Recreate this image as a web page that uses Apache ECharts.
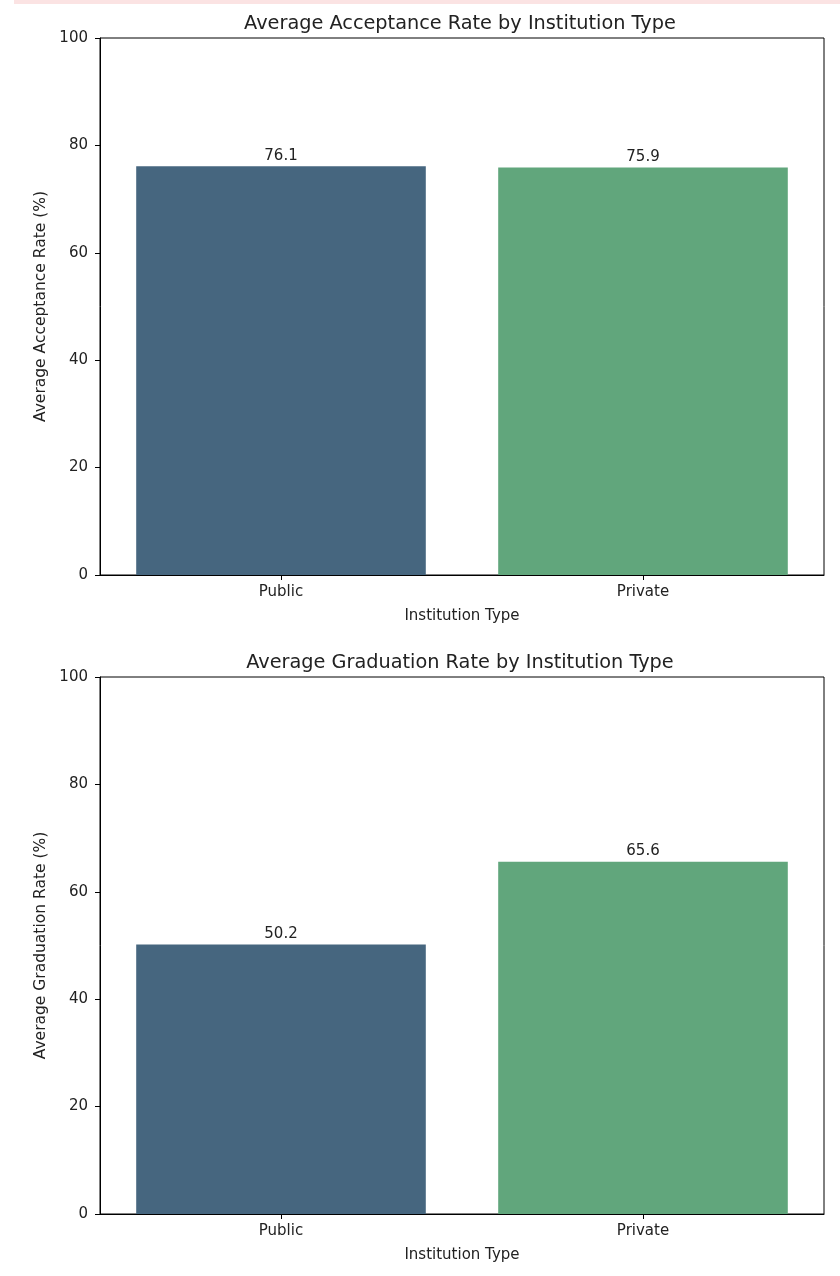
<!DOCTYPE html>
<html>
<head>
<meta charset="utf-8">
<script src="https://cdn.jsdelivr.net/npm/echarts@6/dist/echarts.min.js"></script>
<style>
  html, body { margin: 0; padding: 0; background: #fff; }
  #strip { position: absolute; left: 14px; top: 0; width: 826px; height: 4px; background: #fbe3e3; }
  #chart { width: 840px; height: 1276px; }
</style>
</head>
<body>
<div id="strip"></div>
<div id="chart"></div>
<script>
// institution types and the two averages per type
const categories = ['Public', 'Private'];
const acceptanceRate = [76.1, 75.9];
const graduationRate = [50.2, 65.6];
const yTicks = [0, 20, 40, 60, 80, 100];

const colors = ['#46667f', '#61a67c'];
const font = 'DejaVu Sans';
const fs = 15;

const axisLine = { show: true, lineStyle: { color: '#000', width: 1 } };
const axisTick = { show: true, inside: false, length: 5, lineStyle: { color: '#000' } };
const axisLabel = { color: '#222', fontFamily: font, fontSize: fs };

function makeX(gridIndex) {
  return {
    type: 'category',
    gridIndex,
    data: categories,
    axisLine,
    axisTick: { ...axisTick, alignWithLabel: true },
    axisLabel: { ...axisLabel, margin: 10 },
    name: 'Institution Type',
    nameLocation: 'middle',
    nameGap: 34,
    nameTextStyle: { color: '#222', fontFamily: font, fontSize: fs },
  };
}

function makeY(gridIndex, name) {
  return {
    type: 'value',
    gridIndex,
    min: yTicks[0],
    max: yTicks[yTicks.length - 1],
    interval: 20,
    axisLine,
    axisTick,
    axisLabel: { ...axisLabel, margin: 12 },
    splitLine: { show: false },
    name,
    nameLocation: 'middle',
    nameGap: 50,
    nameTextStyle: { color: '#222', fontFamily: font, fontSize: 15.5 },
  };
}

function makeSeries(idx, values) {
  return {
    type: 'bar',
    xAxisIndex: idx,
    yAxisIndex: idx,
    barCategoryGap: '20%',
    data: values.map((v, i) => ({ value: v, itemStyle: { color: colors[i] } })),
    label: {
      show: true,
      position: 'top',
      distance: 3,
      color: '#222',
      fontFamily: font,
      fontSize: fs,
      formatter: p => p.value.toFixed(1),
    },
  };
}

const titleStyle = { color: '#222', fontFamily: font, fontSize: 19.3, fontWeight: 'normal' };

const option = {
  animation: false,
  title: [
    { text: 'Average Acceptance Rate by Institution Type', left: 455, top: 9, textAlign: 'center', textStyle: titleStyle },
    { text: 'Average Graduation Rate by Institution Type', left: 455, top: 648, textAlign: 'center', textStyle: titleStyle },
  ],
  grid: [
    { left: 100, top: 38, width: 724, height: 537, show: true, borderColor: '#000', borderWidth: 1, backgroundColor: 'transparent' },
    { left: 100, top: 677, width: 724, height: 537, show: true, borderColor: '#000', borderWidth: 1, backgroundColor: 'transparent' },
  ],
  xAxis: [makeX(0), makeX(1)],
  yAxis: [makeY(0, 'Average Acceptance Rate (%)'), makeY(1, 'Average Graduation Rate (%)')],
  series: [makeSeries(0, acceptanceRate), makeSeries(1, graduationRate)],
};

const chart = echarts.init(document.getElementById('chart'), null, { renderer: 'canvas' });
chart.setOption(option);
</script>
</body>
</html>
